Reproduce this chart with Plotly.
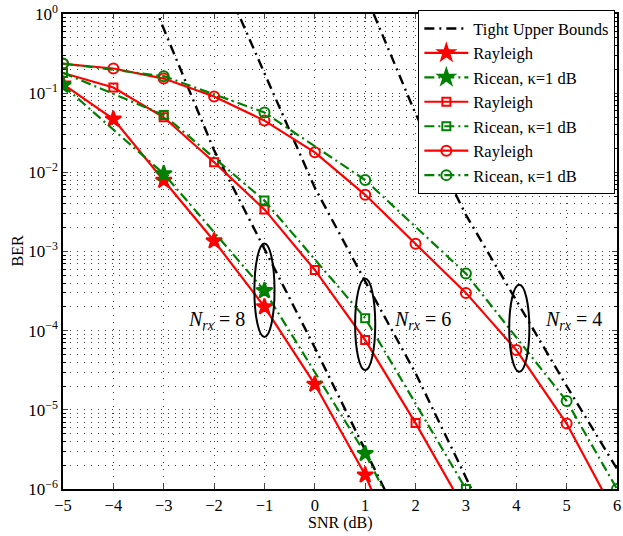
import plotly.graph_objects as go

# ---------------- data ----------------
# Nrx = 8 (stars)
ray8_x = [-5, -4, -3, -2, -1, 0, 1, 2]
ray8_y = [0.13, 0.047, 0.0079, 0.00136, 2.0e-4, 2.1e-5, 1.5e-6, 5e-8]
ric8_x = [-5, -3, -1, 1, 3]
ric8_y = [0.125, 0.0096, 3.2e-4, 2.8e-6, 9e-9]

# Nrx = 6 (squares)
ray6_x = [-5, -4, -3, -2, -1, 0, 1, 2, 3]
ray6_y = [0.18, 0.118, 0.0496, 0.0134, 0.0034, 5.85e-4, 7.6e-5, 6.8e-6, 5.2e-7]
ric6_x = [-5, -3, -1, 1, 3]
ric6_y = [0.181, 0.053, 0.0044, 1.44e-4, 1.0e-6]

# Nrx = 4 (circles)
ray4_x = [-5, -4, -3, -2, -1, 0, 1, 2, 3, 4, 5, 6]
ray4_y = [0.235, 0.205, 0.153, 0.091, 0.045, 0.0179, 5.2e-3, 1.25e-3, 3.0e-4, 5.7e-5, 6.7e-6, 4.4e-7]
ric4_x = [-5, -3, -1, 1, 3, 5, 6]
ric4_y = [0.237, 0.164, 0.057, 8.0e-3, 5.26e-4, 1.29e-5, 1.0e-6]

# Tight upper bounds
ub8_x = [-4, -3, -2, -1, 0, 1, 2]
ub8_y = [26, 0.65, 0.019, 1.08e-3, 6.1e-5, 3.1e-6, 1.6e-7]
ub6_x = [-2, -1, 0, 1, 2, 3, 4]
ub6_y = [5, 0.175, 6.4e-3, 4.2e-4, 2.9e-5, 1.4e-6, 6.3e-8]
ub4_x = [1, 2, 3, 4, 5, 6]
ub4_y = [1.8, 0.055, 2.9e-3, 2.4e-4, 2.0e-5, 1.8e-6]

x_ticks = [-5, -4, -3, -2, -1, 0, 1, 2, 3, 4, 5, 6]
y_exps = [-6, -5, -4, -3, -2, -1, 0]
y_ticktext = ["10<sup>%s</sup>" % (("−" + str(-e)) if e < 0 else str(e)) for e in y_exps]
legend_names = ["Tight Upper Bounds", "Rayleigh", "Ricean, κ=1 dB"]
group_labels = ["8", "6", "4"]
# ellipse markers (SNR centre, log10 BER centre) and label SNR positions
ellipse_cx = [-1, 1, 4.06]
ellipse_cy = [-3.49, -3.92, -3.97]
ellipse_hh = [0.59, 0.58, 0.55]
label_x = [-1.96, 2.14, 5.13]
label_y = -3.87

# ---------------- styles ----------------
RED = "#ff0000"
GREEN = "#008000"
FONT = "Liberation Serif"
green_dash = "10px,4px,2px,4px"
black_dash = "10px,5px,2px,5px"
Y_LO, Y_HI = -6, 0

fig = go.Figure()

first = True
for xs, ys in [(ub8_x, ub8_y), (ub6_x, ub6_y), (ub4_x, ub4_y)]:
    fig.add_trace(go.Scatter(x=xs, y=ys, mode="lines", name=legend_names[0],
                             legendgroup="ub", showlegend=first,
                             line=dict(color="black", width=2.4, dash=black_dash)))
    first = False

series = [
    (ray8_x, ray8_y, ric8_x, ric8_y, "star", 12),
    (ray6_x, ray6_y, ric6_x, ric6_y, "square-open", 8),
    (ray4_x, ray4_y, ric4_x, ric4_y, "circle-open", 10),
]
for rx, ry, gx, gy, sym, sz in series:
    fig.add_trace(go.Scatter(x=rx, y=ry, mode="lines+markers", name=legend_names[1],
                             line=dict(color=RED, width=2.2),
                             marker=dict(symbol=sym, size=sz, color=RED,
                                         line=dict(color=RED, width=2))))
    fig.add_trace(go.Scatter(x=gx, y=gy, mode="lines+markers", name=legend_names[2],
                             line=dict(color=GREEN, width=2.2, dash=green_dash),
                             marker=dict(symbol=sym, size=sz, color=GREEN,
                                         line=dict(color=GREEN, width=2))))

def to_paper(logv):
    return (logv - Y_LO) / (Y_HI - Y_LO)

shapes = []
annotations = []
half_w = 0.2
for cx, cy, hh, lx, lab in zip(ellipse_cx, ellipse_cy, ellipse_hh, label_x, group_labels):
    shapes.append(dict(type="circle", xref="x", yref="paper",
                       x0=cx - half_w, x1=cx + half_w,
                       y0=to_paper(cy - hh), y1=to_paper(cy + hh),
                       line=dict(color="black", width=2)))
    annotations.append(dict(x=lx, y=label_y, xref="x", yref="y", showarrow=False,
                            text="<i>N</i><sub><i>rx</i></sub> = " + lab,
                            font=dict(family=FONT, size=20, color="black")))

annotations.append(dict(x=0.5, y=0, xref="paper", yref="paper", yshift=-34,
                        yanchor="middle", showarrow=False, text="SNR (dB)",
                        font=dict(family=FONT, size=16, color="black")))
annotations.append(dict(x=0, y=0.5, xref="paper", yref="paper", xshift=-46,
                        xanchor="center", showarrow=False, text="BER", textangle=-90,
                        font=dict(family=FONT, size=16, color="black")))

minor_y = [k * 10.0 ** e for e in range(-6, 0) for k in range(2, 10)]
grid_col = "rgba(0,0,0,0.75)"
grid_dash = "1px,6px"

fig.update_layout(
    width=623, height=536,
    margin=dict(l=63, r=2, t=12, b=47),
    paper_bgcolor="white", plot_bgcolor="white",
    font=dict(family=FONT, size=16, color="black"),
    shapes=shapes, annotations=annotations,
    legend=dict(x=0.997, y=1.008, xanchor="right", yanchor="top",
                bgcolor="white", bordercolor="black", borderwidth=1,
                font=dict(family=FONT, size=16.5, color="black"),
                itemwidth=44, tracegroupgap=0),
    showlegend=True,
)
fig.update_xaxes(range=[-5, 6], tickvals=x_ticks, ticks="inside", ticklen=5,
                 showline=True, linecolor="black", linewidth=1.5, mirror="ticks",
                 showgrid=True, gridcolor=grid_col, griddash=grid_dash,
                 gridwidth=1, zeroline=False, ticklabeloverflow="allow",
                 tickfont=dict(family=FONT, size=16.5, color="black"))
fig.update_yaxes(type="log", range=[Y_LO, Y_HI], tickvals=[10.0 ** e for e in y_exps],
                 ticktext=y_ticktext, ticks="inside", ticklen=5,
                 showline=True, linecolor="black", linewidth=1.5, mirror="ticks",
                 showgrid=True, gridcolor=grid_col, griddash=grid_dash,
                 gridwidth=1, zeroline=False, ticklabeloverflow="allow",
                 tickfont=dict(family=FONT, size=17, color="black"),
                 minor=dict(tickvals=minor_y, ticks="inside", ticklen=3,
                            tickcolor="black", showgrid=True,
                            gridcolor=grid_col, griddash=grid_dash))

fig.write_html("out.html")
